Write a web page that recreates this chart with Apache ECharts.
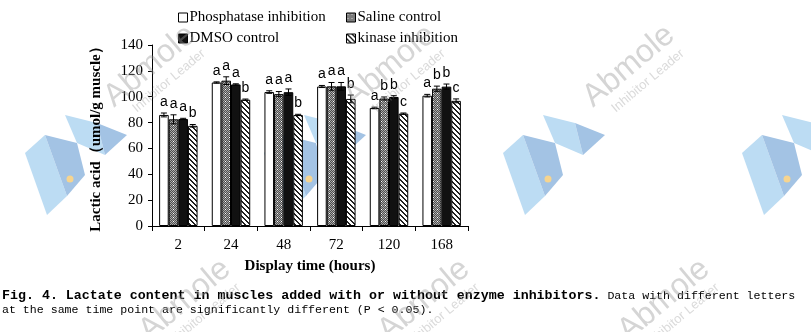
<!DOCTYPE html>
<html>
<head>
<meta charset="utf-8">
<script src="https://cdn.jsdelivr.net/npm/echarts@6/dist/echarts.min.js"></script>
<style>html,body{margin:0;padding:0;background:#fff;}#c{width:811px;height:332px;}</style>
</head>
<body>
<div id="c"></div>
<script>
// ---- data ----
var categories = ['2', '24', '48', '72', '120', '168'];
var seriesNames = ['Phosphatase inhibition', 'Saline control', 'DMSO control', 'kinase inhibition'];
var phosphatase = [85.9, 111.0, 103.6, 107.9, 91.3, 100.8];
var saline      = [82.5, 112.4, 102.0, 108.0, 98.6, 106.2];
var dmso        = [82.8, 109.5, 103.5, 108.0, 99.8, 107.8];
var kinase      = [77.5, 97.7, 85.9, 98.3, 86.9, 96.8];
var phosErr = [1.5, 0.5, 1.0, 0.8, 0.6, 1.0];
var salErr  = [3.5, 3.0, 2.0, 3.0, 1.2, 2.0];
var dmsoErr = [0.5, 0.5, 2.5, 3.0, 1.0, 2.0];
var kinErr  = [1.0, 0.5, 0.5, 3.0, 0.5, 1.5];
var phosLetters = ['a', 'a', 'a', 'a', 'a', 'a'];
var salLetters  = ['a', 'a', 'a', 'a', 'b', 'b'];
var dmsoLetters = ['a', 'a', 'a', 'a', 'b', 'b'];
var kinLetters  = ['b', 'b', 'b', 'b', 'c', 'c'];
var yTicks = [0, 20, 40, 60, 80, 100, 120, 140];

// ---- patterns ----
function grayPattern() {
  var c = document.createElement('canvas'); c.width = 4; c.height = 4;
  var g = c.getContext('2d');
  for (var y = 0; y < 4; y++) for (var x = 0; x < 4; x++) {
    g.fillStyle = ((x + y) % 2) ? '#4e4e4e' : '#a8a8a8';
    g.fillRect(x, y, 1, 1);
  }
  g.fillStyle = '#ffffff'; g.fillRect(1, 1, 1, 1);
  return c;
}
function hatchPattern() {
  var n = 5;
  var c = document.createElement('canvas'); c.width = n; c.height = n;
  var g = c.getContext('2d');
  g.fillStyle = '#fff'; g.fillRect(0, 0, n, n);
  g.fillStyle = '#222';
  for (var i = 0; i < n; i++) { g.fillRect(i, i, 1, 1); g.fillRect((i + 1) % n, i, 1, 1); }
  return c;
}
var fills = [
  '#ffffff',
  { image: grayPattern(), repeat: 'repeat' },
  '#111111',
  { image: hatchPattern(), repeat: 'repeat' }
];
var values = [phosphatase, saline, dmso, kinase];
var errs = [phosErr, salErr, dmsoErr, kinErr];
var letters = [phosLetters, salLetters, dmsoLetters, kinLetters];

var serif = '"Liberation Serif", "Times New Roman", serif';
var gapPct = 0.27;

var series = [];
for (var s = 0; s < 4; s++) {
  series.push({
    name: seriesNames[s], type: 'bar', data: values[s],
    barGap: '0%', barCategoryGap: (gapPct * 100) + '%',
    itemStyle: { color: fills[s], borderColor: '#000', borderWidth: 1 },
    emphasis: { disabled: true }, z: 2
  });
}
var errData = [];
for (var s2 = 0; s2 < 4; s2++) for (var c2 = 0; c2 < categories.length; c2++) {
  errData.push([c2, values[s2][c2], errs[s2][c2], s2, letters[s2][c2]]);
}
series.push({
  type: 'custom', data: errData, encode: { x: 0, y: 1 }, z: 5, silent: true, clip: false,
  renderItem: function (params, api) {
    var ci = api.value(0), v = api.value(1), e = api.value(2), si = api.value(3);
    var d = errData[params.dataIndex];
    var band = api.size([1, 0])[0];
    var bw = band * (1 - gapPct) / 4;
    var center = api.coord([ci, v]);
    var x = center[0] + (si - 1.5) * bw;
    var yTop = api.coord([ci, v + e])[1];
    var yBot = api.coord([ci, v - e])[1];
    var cap = 3;
    var lineStyle = { stroke: '#000', lineWidth: 1 };
    return {
      type: 'group',
      children: [
        { type: 'line', shape: { x1: x, y1: yTop, x2: x, y2: yBot }, style: lineStyle },
        { type: 'line', shape: { x1: x - cap, y1: yTop, x2: x + cap, y2: yTop }, style: lineStyle },
        { type: 'line', shape: { x1: x - cap, y1: yBot, x2: x + cap, y2: yBot }, style: lineStyle },
        { type: 'text', style: { text: d[4], x: x, y: yTop - 4, align: 'center', verticalAlign: 'bottom',
            font: '14px "Liberation Sans", Arial, sans-serif', fill: '#000' } }
      ]
    };
  }
});

// ---- legends (2 x 2) ----
function mkLegend(name, left, top) {
  return {
    data: [name], left: left, top: top, itemWidth: 9, itemHeight: 9, itemGap: 0,
    icon: 'rect', selectedMode: false,
    itemStyle: { borderColor: '#000', borderWidth: 1 },
    textStyle: { fontFamily: serif, fontSize: 15, color: '#000', padding: [0, 0, 0, -3] }
  };
}

// ---- watermark decoration ----
var graphics = [];
function logo(ax, ay) {
  var pA = [[0,0],[20,-18],[42,43],[22,62]];
  var pB = [[20,-18],[52,-10],[60,22],[42,43]];
  var pC = [[40,-38],[72,-30],[80,2],[52,-10]];
  var pD = [[72,-30],[102,-18],[80,2]];
  function sh(p) { return p.map(function (q) { return [q[0] + ax, q[1] + ay]; }); }
  graphics.push({ type: 'polygon', z: -10, shape: { points: sh(pA) }, style: { fill: '#bcdcf3' } });
  graphics.push({ type: 'polygon', z: -10, shape: { points: sh(pB) }, style: { fill: '#a3c3e4' } });
  graphics.push({ type: 'polygon', z: -10, shape: { points: sh(pC) }, style: { fill: '#bcdcf3' } });
  graphics.push({ type: 'polygon', z: -10, shape: { points: sh(pD) }, style: { fill: '#a3c3e4' } });
  graphics.push({ type: 'circle', z: -10, shape: { cx: ax + 45, cy: ay + 26, r: 3.5 }, style: { fill: '#f6d48f' } });
}
[25, 264, 503, 742].forEach(function (x) { logo(x, 153); });
function wmText(cx, cy) {
  var rot = 40 * Math.PI / 180;
  graphics.push({ type: 'text', z: 100, x: cx, y: cy, rotation: rot,
    style: { text: 'Abmole', font: '32px "Liberation Sans", Arial, sans-serif', fill: 'rgba(150,150,150,0.4)', align: 'center', verticalAlign: 'middle' } });
  graphics.push({ type: 'text', z: 100, x: cx + 19, y: cy + 15, rotation: rot,
    style: { text: 'Inhibitor Leader', font: '13px "Liberation Sans", Arial, sans-serif', fill: 'rgba(150,150,150,0.35)', align: 'center', verticalAlign: 'middle' } });
}
[150, 390, 629].forEach(function (x) { wmText(x, 66); });
[185, 424, 664].forEach(function (x) { wmText(x, 300); });

// ---- caption ----
graphics.push({
  type: 'text', left: 2, top: 289, z: 50,
  style: {
    text: '{b|Fig. 4. Lactate content in muscles added with or without enzyme inhibitors.}{r| Data with different letters}',
    rich: {
      b: { font: 'bold 13.3px "Liberation Mono", "DejaVu Sans Mono", monospace', fill: '#000' },
      r: { font: '11.6px "Liberation Mono", "DejaVu Sans Mono", monospace', fill: '#000' }
    }
  }
});
graphics.push({
  type: 'text', left: 2, top: 304, z: 50,
  style: { text: 'at the same time point are significantly different (P < 0.05).',
    font: '11.6px "Liberation Mono", "DejaVu Sans Mono", monospace', fill: '#000' }
});

var chart = echarts.init(document.getElementById('c'), null, { renderer: 'canvas' });
chart.setOption({
  animation: false,
  backgroundColor: '#fff',
  grid: { left: 152, right: 343, top: 45, bottom: 106, containLabel: false },
  legend: [
    mkLegend(seriesNames[0], 173, 5),
    mkLegend(seriesNames[1], 341, 5),
    mkLegend(seriesNames[2], 173, 26),
    mkLegend(seriesNames[3], 341, 26)
  ],
  xAxis: {
    type: 'category', data: categories,
    name: 'Display time (hours)', nameLocation: 'middle', nameGap: 33,
    nameTextStyle: { fontFamily: serif, fontSize: 15, fontWeight: 'bold', color: '#000' },
    axisLine: { lineStyle: { color: '#000', width: 1 } },
    axisTick: { show: true, length: 5, lineStyle: { color: '#000' } },
    axisLabel: { fontFamily: serif, fontSize: 15, color: '#000', margin: 12 }
  },
  yAxis: {
    type: 'value', min: yTicks[0], max: yTicks[yTicks.length - 1], interval: 20,
    name: 'Lactic acid（umol/g muscle）', nameLocation: 'middle', nameGap: 48, nameRotate: 90,
    nameTextStyle: { fontFamily: serif, fontSize: 15, fontWeight: 'bold', color: '#000' },
    axisLine: { show: true, lineStyle: { color: '#000', width: 1 } },
    axisTick: { show: true, length: 4, lineStyle: { color: '#000' } },
    splitLine: { show: false },
    axisLabel: { fontFamily: serif, fontSize: 15, color: '#000', margin: 9 }
  },
  series: series,
  graphic: { elements: graphics }
});
</script>
</body>
</html>
